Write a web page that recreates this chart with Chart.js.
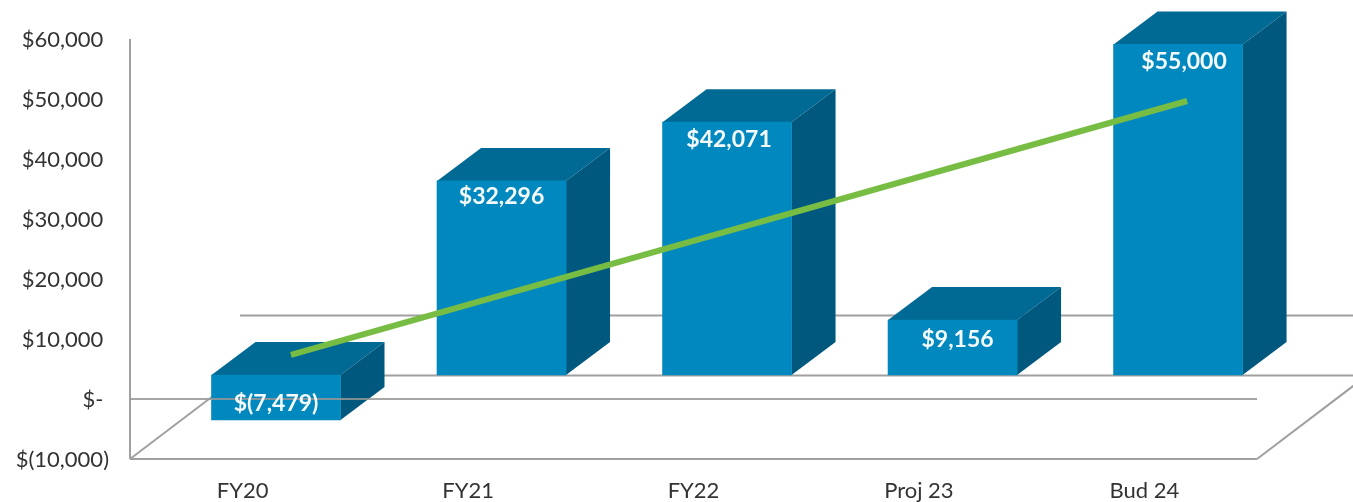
<!DOCTYPE html>
<html>
<head>
<meta charset="utf-8">
<style>html,body{margin:0;padding:0;background:#fff}canvas{display:block;filter:blur(0.45px)}</style>
<script src="https://cdn.jsdelivr.net/npm/chart.js@4"></script>
</head>
<body>
<canvas id="c" width="1353" height="502"></canvas>
<script>
const categories = ['FY20', 'FY21', 'FY22', 'Proj 23', 'Bud 24'];
const slots = [1, 2, 3, 4, 5];
const values = [-7479, 32296, 42071, 9156, 55000];
const trendSlots = [1.066, 5.04];
const trendValues = [3330, 45590];

const fontFamily = 'Lato, "Open Sans", sans-serif';
const money = n => Math.abs(n).toLocaleString('en-US');
const dataLabel = v => v < 0 ? '$(' + money(v) + ')' : '$' + money(v);
const tickLabel = v => v === 0 ? '$- ' : (v < 0 ? '$(' + money(v) + ')' : '$' + money(v) + ' ');

const DX = 44, DY = 33, BACK_X = 110, BACK_Y = 83.5;
const GRID = '#a0a0a0';
const LABEL_NUDGE_X = [0, 0, 2, 5, 6];
const LABEL_NUDGE_Y = [-16, 16, 17, 20, 17];

function seg(ctx, x1, y1, x2, y2) {
  ctx.beginPath(); ctx.moveTo(x1, y1); ctx.lineTo(x2, y2); ctx.stroke();
}
function poly(ctx, pts, fill) {
  ctx.beginPath();
  pts.forEach((p, i) => i ? ctx.lineTo(p[0], p[1]) : ctx.moveTo(p[0], p[1]));
  ctx.closePath(); ctx.fillStyle = fill; ctx.fill();
}

const box3d = {
  id: 'box3d',
  beforeDatasetsDraw(chart) {
    const ctx = chart.ctx, y = chart.scales.y, a = chart.chartArea;
    const floorY = y.getPixelForValue(-10000), zeroY = y.getPixelForValue(0);
    ctx.save();
    ctx.strokeStyle = GRID; ctx.lineWidth = 2;
    seg(ctx, a.left, y.getPixelForValue(60000), a.left, floorY);
    seg(ctx, a.left, floorY, a.right, floorY);
    seg(ctx, a.left, floorY, a.left + BACK_X, floorY - BACK_Y);
    seg(ctx, a.right, floorY, a.right + BACK_X, floorY - BACK_Y);
    seg(ctx, a.left + BACK_X, floorY - BACK_Y, a.right + BACK_X, floorY - BACK_Y);
    seg(ctx, a.left + BACK_X, zeroY - BACK_Y, a.right + BACK_X, zeroY - BACK_Y);
    chart.getDatasetMeta(0).data.forEach(b => {
      const l = b.x - b.width / 2, r = b.x + b.width / 2;
      const t = Math.min(b.y, b.base), bt = Math.max(b.y, b.base);
      poly(ctx, [[l, t], [l + DX, t - DY], [r + DX, t - DY], [r, t]], '#006a94');
      poly(ctx, [[r, t], [r + DX, t - DY], [r + DX, bt - DY], [r, bt]], '#00587f');
    });
    ctx.restore();
  },
  afterDatasetDraw(chart, args) {
    if (args.index !== 0) return;
    const ctx = chart.ctx, y = chart.scales.y, a = chart.chartArea;
    const zeroY = y.getPixelForValue(0);
    ctx.save();
    ctx.strokeStyle = 'rgba(150,150,150,0.85)'; ctx.lineWidth = 2;
    seg(ctx, a.left, zeroY, a.right, zeroY);
    ctx.fillStyle = '#f4fafd';
    ctx.font = 'bold 23px ' + fontFamily;
    ctx.textAlign = 'center'; ctx.textBaseline = 'middle';
    chart.getDatasetMeta(0).data.forEach((b, i) => {
      ctx.fillText(dataLabel(values[i]), b.x + LABEL_NUDGE_X[i], b.y + LABEL_NUDGE_Y[i]);
    });
    ctx.restore();
  }
};

new Chart(document.getElementById('c'), {
  data: {
    labels: categories,
    datasets: [
      {
        type: 'bar', order: 2, xAxisID: 'xb', yAxisID: 'yb',
        data: values.map((v, i) => ({ x: slots[i], y: v })),
        backgroundColor: '#0088bf', borderWidth: 0, barThickness: 129
      },
      {
        type: 'line', order: 1, xAxisID: 'xb', yAxisID: 'yb',
        data: trendValues.map((v, i) => ({ x: trendSlots[i], y: v })),
        borderColor: '#78bd43', borderWidth: 6, borderCapStyle: 'butt',
        pointRadius: 0, tension: 0, fill: false
      }
    ]
  },
  options: {
    responsive: false,
    animation: false,
    events: [],
    layout: { padding: { left: 0, right: 96, top: 39, bottom: 0 } },
    plugins: { legend: { display: false }, tooltip: { enabled: false }, title: { display: false } },
    scales: {
      x: {
        type: 'category', labels: categories, offset: true, position: 'bottom',
        grid: { display: false }, border: { display: false },
        ticks: { color: '#333333', font: { family: fontFamily, size: 22 }, padding: 11, maxRotation: 0, autoSkip: false },
        afterFit(s) { s.height = 43; }
      },
      y: {
        type: 'linear', min: -10000, max: 60000, position: 'left',
        grid: { display: false }, border: { display: false },
        ticks: { stepSize: 10000, color: '#333333', font: { family: fontFamily, size: 22 }, padding: 13, labelOffset: 1, callback: tickLabel },
        afterFit(s) { s.width = 130; }
      },
      xb: { type: 'linear', display: false, offset: false, min: 0.3525, max: 5.35 },
      yb: { type: 'linear', display: false, min: -13977, max: 55907 }
    }
  },
  plugins: [box3d]
});
</script>
</body>
</html>
